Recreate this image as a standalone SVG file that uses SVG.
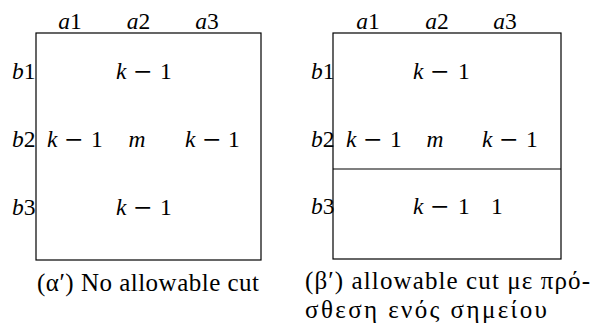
<svg xmlns="http://www.w3.org/2000/svg" width="592" height="324" viewBox="0 0 592 324">
<style>
.c{text-anchor:middle}
.e{text-anchor:end}
.box{fill:#fff;stroke:#000;stroke-width:1.2}
</style>
<rect width="592" height="324" fill="#fff"/>
<g id="panel-a">
<rect class="box" x="36" y="33" width="225" height="227"/>
<g id="a-cols">
<text class="c" x="70" y="29" style="font-family:'Liberation Serif',serif;font-size:23.5px"><tspan style="font-family:'Liberation Serif',serif;font-style:italic">a</tspan>1</text>
<text class="c" x="138.5" y="29" style="font-family:'Liberation Serif',serif;font-size:23.5px"><tspan style="font-family:'Liberation Serif',serif;font-style:italic">a</tspan>2</text>
<text class="c" x="207" y="29" style="font-family:'Liberation Serif',serif;font-size:23.5px"><tspan style="font-family:'Liberation Serif',serif;font-style:italic">a</tspan>3</text>
</g>
<g id="a-rows">
<text class="e" x="35.5" y="79" style="font-family:'Liberation Serif',serif;font-size:23.5px"><tspan style="font-family:'Liberation Serif',serif;font-style:italic">b</tspan>1</text>
<text class="e" x="35.5" y="147" style="font-family:'Liberation Serif',serif;font-size:23.5px"><tspan style="font-family:'Liberation Serif',serif;font-style:italic">b</tspan>2</text>
<text class="e" x="35.5" y="215" style="font-family:'Liberation Serif',serif;font-size:23.5px"><tspan style="font-family:'Liberation Serif',serif;font-style:italic">b</tspan>3</text>
</g>
<g id="a-cells">
<text y="79" style="font-family:'Liberation Serif',serif;font-size:23.5px"><tspan x="116" style="font-family:'Liberation Serif',serif;font-style:italic">k</tspan><tspan x="133" style="font-family:'DejaVu Sans',sans-serif">−</tspan><tspan x="160">1</tspan></text>
<text y="147" style="font-family:'Liberation Serif',serif;font-size:23.5px"><tspan x="47" style="font-family:'Liberation Serif',serif;font-style:italic">k</tspan><tspan x="64" style="font-family:'DejaVu Sans',sans-serif">−</tspan><tspan x="91">1</tspan></text>
<text class="c" x="137" y="147" style="font-family:'Liberation Serif',serif;font-size:23.5px;font-style:italic">m</text>
<text y="147" style="font-family:'Liberation Serif',serif;font-size:23.5px"><tspan x="185" style="font-family:'Liberation Serif',serif;font-style:italic">k</tspan><tspan x="202" style="font-family:'DejaVu Sans',sans-serif">−</tspan><tspan x="228">1</tspan></text>
<text y="215" style="font-family:'Liberation Serif',serif;font-size:23.5px"><tspan x="116" style="font-family:'Liberation Serif',serif;font-style:italic">k</tspan><tspan x="133" style="font-family:'DejaVu Sans',sans-serif">−</tspan><tspan x="160">1</tspan></text>
</g>
<text x="37" y="291" textLength="222" lengthAdjust="spacing" style="font-family:'Liberation Serif',serif;font-size:25px">(α′) No allowable cut</text>
</g>
<g id="panel-b">
<rect class="box" x="333" y="33" width="228" height="226"/>
<line x1="333" y1="169" x2="561" y2="169" stroke="#000" stroke-width="1.2"/>
<g id="b-cols">
<text class="c" x="368" y="29" style="font-family:'Liberation Serif',serif;font-size:23.5px"><tspan style="font-family:'Liberation Serif',serif;font-style:italic">a</tspan>1</text>
<text class="c" x="437" y="29" style="font-family:'Liberation Serif',serif;font-size:23.5px"><tspan style="font-family:'Liberation Serif',serif;font-style:italic">a</tspan>2</text>
<text class="c" x="505" y="29" style="font-family:'Liberation Serif',serif;font-size:23.5px"><tspan style="font-family:'Liberation Serif',serif;font-style:italic">a</tspan>3</text>
</g>
<g id="b-rows">
<text class="e" x="334.5" y="79" style="font-family:'Liberation Serif',serif;font-size:23.5px"><tspan style="font-family:'Liberation Serif',serif;font-style:italic">b</tspan>1</text>
<text class="e" x="334.5" y="147" style="font-family:'Liberation Serif',serif;font-size:23.5px"><tspan style="font-family:'Liberation Serif',serif;font-style:italic">b</tspan>2</text>
<text class="e" x="334.5" y="214" style="font-family:'Liberation Serif',serif;font-size:23.5px"><tspan style="font-family:'Liberation Serif',serif;font-style:italic">b</tspan>3</text>
</g>
<g id="b-cells">
<text y="79" style="font-family:'Liberation Serif',serif;font-size:23.5px"><tspan x="413" style="font-family:'Liberation Serif',serif;font-style:italic">k</tspan><tspan x="430" style="font-family:'DejaVu Sans',sans-serif">−</tspan><tspan x="458">1</tspan></text>
<text y="147" style="font-family:'Liberation Serif',serif;font-size:23.5px"><tspan x="346" style="font-family:'Liberation Serif',serif;font-style:italic">k</tspan><tspan x="363" style="font-family:'DejaVu Sans',sans-serif">−</tspan><tspan x="390">1</tspan></text>
<text class="c" x="435" y="147" style="font-family:'Liberation Serif',serif;font-size:23.5px;font-style:italic">m</text>
<text y="147" style="font-family:'Liberation Serif',serif;font-size:23.5px"><tspan x="482" style="font-family:'Liberation Serif',serif;font-style:italic">k</tspan><tspan x="499" style="font-family:'DejaVu Sans',sans-serif">−</tspan><tspan x="526">1</tspan></text>
<text y="214" style="font-family:'Liberation Serif',serif;font-size:23.5px"><tspan x="413" style="font-family:'Liberation Serif',serif;font-style:italic">k</tspan><tspan x="430" style="font-family:'DejaVu Sans',sans-serif">−</tspan><tspan x="458">1</tspan></text>
<text x="491" y="214" style="font-family:'Liberation Serif',serif;font-size:23.5px">1</text>
</g>
<text x="305" y="289" textLength="285" lengthAdjust="spacing" style="font-family:'Liberation Serif',serif;font-size:25px">(β′) allowable cut με πρό-</text>
<text x="305" y="318" textLength="242" lengthAdjust="spacing" style="font-family:'Liberation Serif',serif;font-size:25px">σθεση ενός σημείου</text>
</g>
</svg>
